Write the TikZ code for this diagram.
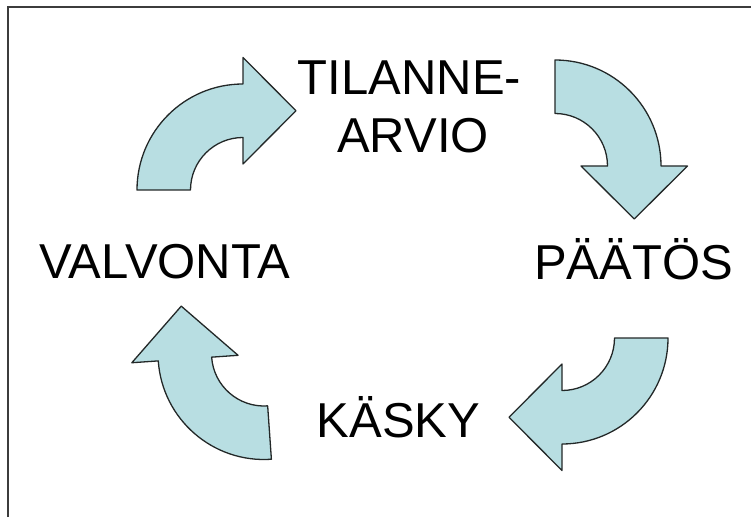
\documentclass[tikz,border=0pt]{standalone}
\usepackage{fontspec}
\setmainfont{Liberation Sans}
\definecolor{arrowfill}{RGB}{184,222,226}
\definecolor{arrowline}{RGB}{35,40,40}
\definecolor{frameline}{RGB}{60,60,60}
\tikzset{
  cyclearrow/.pic={
    % curved block arrow: quarter-annulus shaft, head pointing clockwise
    \path[fill=arrowfill, draw=arrowline, line width=1.3pt, line join=round]
      (180:106) arc[start angle=180, end angle=90, radius=106]
      -- (0,132.5) -- (53,79.25) -- (0,26)
      -- (0,52.5) arc[start angle=90, end angle=180, radius=52.5]
      -- cycle;
  },
  label/.style={font=\fontsize{49}{58}\selectfont, inner sep=0pt, anchor=base}
}
\begin{document}
\begin{tikzpicture}[x=1pt, y=1pt]
  \useasboundingbox (0,0) rectangle (751,517);
  \fill[white] (0,0) rectangle (751,517);

  % frame
  \coordinate (fa) at (8,0);
  \coordinate (fb) at (8,510);
  \coordinate (fc) at (751,510);
  \draw[frameline, line width=1.8pt] (fa) -- (fb) -- (fc);

  % four curved arrows of the cycle
  \pic at (243,327) {cyclearrow};
  \pic[rotate=-90] at (555,351) {cyclearrow};
  \pic[rotate=-180] at (562,179) {cyclearrow};
  \pic[rotate=94] at (264,163.5) {cyclearrow};

  % stage labels
  \node[label] (tilanne) at (409.5,422) {TILANNE-};
  \node[label] (arvio) at (413,364) {ARVIO};
  \node[label] (paatos) at (633.5,237) {PÄÄTÖS};
  \node[label] (kasky) at (398.5,80) {KÄSKY};
  \node[label] (valvonta) at (165,238) {VALVONTA};
\end{tikzpicture}
\end{document}
